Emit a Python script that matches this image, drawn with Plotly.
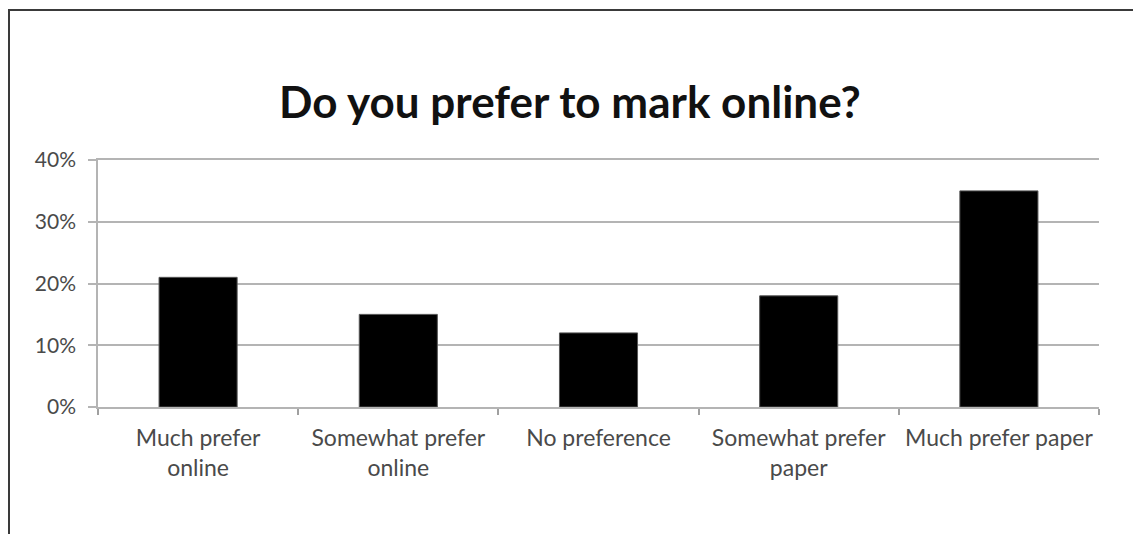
import plotly.graph_objects as go

categories = ["Much prefer<br>online", "Somewhat prefer<br>online", "No preference",
              "Somewhat prefer<br>paper", "Much prefer paper"]
shares = [0.21, 0.15, 0.12, 0.18, 0.35]
y_ticks = [0, 0.1, 0.2, 0.3, 0.4]
y_tick_labels = ["0%", "10%", "20%", "30%", "40%"]

W, H = 1133, 534
L, R, T, B = 98, 34, 160, 127
pw, ph = W - L - R, H - T - B

def px_x(x):
    return (x - L) / pw

def px_y(y):
    return (H - B - y) / ph

fig = go.Figure(go.Bar(
    x=categories, y=shares,
    marker=dict(color="#000000", line=dict(color="#555555", width=1)),
    width=0.39,
))

fig.update_layout(
    width=W, height=H,
    margin=dict(l=L, r=R, t=T, b=B),
    paper_bgcolor="#ffffff", plot_bgcolor="#ffffff",
    font=dict(family="Lato", size=23, color="#4a4a4a"),
    title=dict(text="<b>Do you prefer to mark online?</b>", x=0.503, xanchor="center",
               y=1 - 103 / H, yanchor="middle",
               font=dict(family="Lato", size=44, color="#111111")),
    showlegend=False,
    shapes=[dict(type="path", xref="paper", yref="paper",
                 path=f"M {px_x(9)} {px_y(560)} L {px_x(9)} {px_y(10)} L {px_x(1160)} {px_y(10)}",
                 line=dict(color="#3a3a3a", width=2))],
)

fig.update_xaxes(
    showgrid=False, showline=True, mirror=True, linecolor="#b4b4b4", linewidth=1.5,
    ticks="outside", tickson="boundaries",
    ticklen=6, tickcolor="#a0a0a0", tickwidth=1.5,
    ticklabelstandoff=10,
    tickfont=dict(size=23, color="#4a4a4a"),
)
fig.update_yaxes(
    range=[0, 0.4], tickvals=y_ticks, ticktext=y_tick_labels,
    showgrid=True, gridcolor="#b4b4b4", gridwidth=1.5,
    showline=True, linecolor="#b4b4b4", linewidth=1.5,
    ticks="outside", ticklen=8, tickcolor="#b4b4b4", tickwidth=1.5,
    ticklabelstandoff=8, zeroline=False,
    tickfont=dict(size=21, color="#4a4a4a"),
)

fig.write_html("out.html")
